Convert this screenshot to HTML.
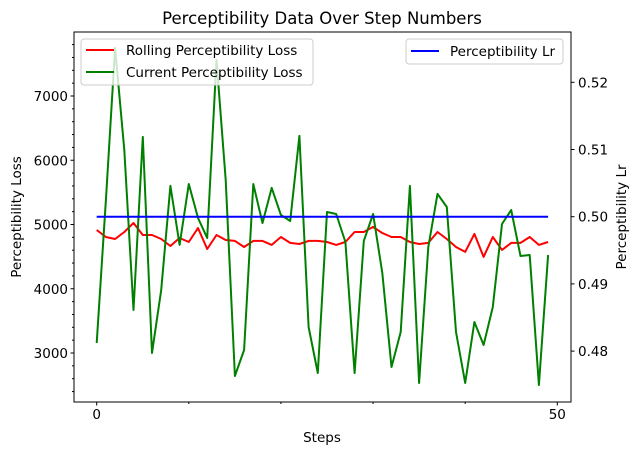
<!DOCTYPE html>
<html><head><meta charset="utf-8"><style>
body{margin:0;background:#fff}
svg{display:block;font-family:"DejaVu Sans","Liberation Sans",sans-serif}
</style></head><body>
<svg id="chart" width="640" height="455" viewBox="0 0 640 455">
<text x="322" y="24" text-anchor="middle" font-size="16.5" fill="#000">Perceptibility Data Over Step Numbers</text>
<g id="plot"></g>
</svg>
<script>
const steps = Array.from({length:50},(_,i)=>i);
const rollingLoss = [4915,4806,4775,4884,5024,4837,4837,4775,4666,4790,4728,4946,4619,4837,4759,4744,4650,4744,4744,4682,4806,4713,4697,4744,4744,4728,4682,4728,4884,4884,4962,4868,4806,4806,4728,4697,4713,4884,4775,4650,4573,4853,4495,4806,4604,4713,4713,4806,4682,4728];
const currentLoss = [3156,5382,7749,6161,3670,6363,3000,3981,5600,4682,5631,5102,4790,7562,5694,2642,3047,5631,5024,5569,5149,5055,6379,3405,2689,5195,5164,4728,2689,4744,5164,4246,2782,3327,5600,2533,4650,5476,5273,3327,2533,3483,3125,3716,5008,5226,4510,4526,2502,4526];
const lrValues = Array(50).fill(0.5);
const xTicks = [0,50];
const xMinor = [10,20,30,40];
const yTicks = [3000,4000,5000,6000,7000];
const y2Ticks = [0.48,0.49,0.50,0.51,0.52];

const L=74,R=571,T=32,B=402;
const xs = v => 96.7 + v*9.212;
const ys = v => 353 - (v-3000)*0.06425;
const y2s = v => 216.7 - (v-0.5)*6720;
const g = document.getElementById('plot');
const NS='http://www.w3.org/2000/svg';
function mk(tag,attrs,parent){const e=document.createElementNS(NS,tag);for(const k in attrs)e.setAttribute(k,attrs[k]);(parent||g).appendChild(e);return e;}

function line(vals,sc,color,name){
  const p = mk('polyline',{points:vals.map((v,i)=>xs(steps[i]).toFixed(1)+','+sc(v).toFixed(1)).join(' '),fill:'none',stroke:color,'stroke-width':2,'stroke-linejoin':'round'});
  
  
}
line(rollingLoss,ys,'#ff0000','rolling-loss-line');
line(currentLoss,ys,'#008000','current-loss-line');
line(lrValues,y2s,'#0000ff','lr-line');

const frame = mk('rect',{x:L,y:T,width:R-L,height:B-T,fill:'none',stroke:'#000','stroke-width':1});



xTicks.forEach(v=>{
  mk('line',{x1:xs(v),x2:xs(v),y1:B,y2:B+3.5,stroke:'#000'});
  const t=mk('text',{x:xs(v),y:B+17,'text-anchor':'middle','font-size':13.5});
  t.textContent=v;
  
  
});
xMinor.forEach(v=>mk('line',{x1:xs(v),x2:xs(v),y1:B,y2:B+2,stroke:'#000'}));
yTicks.forEach(v=>{
  mk('line',{x1:L-3.5,x2:L,y1:ys(v),y2:ys(v),stroke:'#000'});
  const t=mk('text',{x:L-6,y:ys(v)+5,'text-anchor':'end','font-size':13.5});
  t.textContent=v;
  
  
});
for(let v=2400;v<=8000;v+=200){ if(ys(v)>T && ys(v)<B && v%1000) mk('line',{x1:L-2,x2:L,y1:ys(v),y2:ys(v),stroke:'#000'}); }
y2Ticks.forEach(v=>{
  mk('line',{x1:R,x2:R+3.5,y1:y2s(v),y2:y2s(v),stroke:'#000'});
  const t=mk('text',{x:R+7,y:y2s(v)+5,'font-size':13.5});
  t.textContent=v.toFixed(2);
  
  
});
</script>
<div style="position:absolute;left:0;top:0;width:640px;height:455px;pointer-events:none">
<svg width="640" height="455" style="position:absolute;left:0;top:0" font-family="DejaVu Sans, Liberation Sans, sans-serif">
<text x="322" y="442" text-anchor="middle" font-size="13.5">Steps</text>
<text transform="translate(21,217) rotate(-90)" text-anchor="middle" font-size="13.5">Perceptibility Loss</text>
<text transform="translate(626,217) rotate(-90)" text-anchor="middle" font-size="13.5">Perceptibility Lr</text>
<g>
<rect x="81" y="39" width="232" height="46" rx="3" fill="#fff" fill-opacity="0.8" stroke="#ccc"/>
<line x1="86" x2="114" y1="50" y2="50" stroke="#ff0000" stroke-width="2"/>
<text x="126" y="55" font-size="13.5">Rolling Perceptibility Loss</text>
<line x1="86" x2="114" y1="72" y2="72" stroke="#008000" stroke-width="2"/>
<text x="126" y="77" font-size="13.5">Current Perceptibility Loss</text>
</g>
<g>
<rect x="406" y="39" width="157" height="25" rx="3" fill="#fff" fill-opacity="0.8" stroke="#ccc"/>
<line x1="411" x2="439" y1="51" y2="51" stroke="#0000ff" stroke-width="2"/>
<text x="450" y="56" font-size="13.5">Perceptibility Lr</text>
</g>
</svg>
</div>
</body></html>
